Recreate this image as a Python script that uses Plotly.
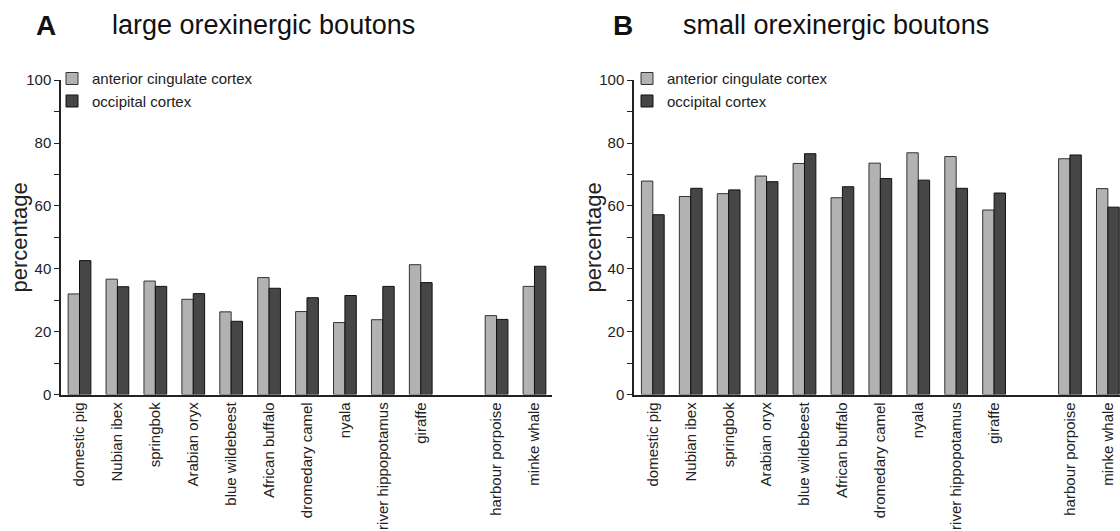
import plotly.graph_objects as go

W, H = 1120, 531

species = ["domestic pig", "Nubian ibex", "springbok", "Arabian oryx", "blue wildebeest",
           "African buffalo", "dromedary camel", "nyala", "river hippopotamus", "giraffe",
           "harbour porpoise", "minke whale"]
category_order = species[:10] + [" "] + species[10:]

large_acc = [32.0, 36.7, 36.1, 30.3, 26.3, 37.2, 26.4, 22.9, 23.8, 41.3, 25.1, 34.4]
large_occ = [42.6, 34.3, 34.4, 32.1, 23.3, 33.8, 30.8, 31.5, 34.4, 35.6, 23.9, 40.8]
small_acc = [67.9, 63.0, 63.9, 69.5, 73.5, 62.6, 73.6, 76.9, 75.7, 58.7, 75.0, 65.5]
small_occ = [57.2, 65.6, 65.1, 67.7, 76.6, 66.1, 68.7, 68.2, 65.6, 64.1, 76.2, 59.6]

series_names = ["anterior cingulate cortex", "occipital cortex"]
y_ticks = [0, 20, 40, 60, 80, 100]

FONT = "Liberation Sans, Arial, Helvetica, sans-serif"
GRAY = "#b2b2b2"
DARK = "#464646"

def px_x(p):
    return p / W

def px_y(p):
    return 1 - p / H

fig = go.Figure()

panels = [
    ("x", "y", "legend", large_acc, large_occ),
    ("x2", "y2", "legend2", small_acc, small_occ),
]
for xa, ya, lg, acc, occ in panels:
    fig.add_trace(go.Bar(x=species, y=acc, name=series_names[0], xaxis=xa, yaxis=ya,
                         legend=lg, marker=dict(color=GRAY, line=dict(color="#333333", width=1))))
    fig.add_trace(go.Bar(x=species, y=occ, name=series_names[1], xaxis=xa, yaxis=ya,
                         legend=lg, marker=dict(color=DARK, line=dict(color="#111111", width=1))))

y_top, y_zero = 73.5, 398.3
xaxis_common = dict(
    type="category", categoryorder="array", categoryarray=category_order,
    showline=True, linecolor="#222222", linewidth=1.5, ticks="", tickangle=-90,
    tickfont=dict(family=FONT, size=15, color="#222222"), showgrid=False, zeroline=False,
    fixedrange=True,
)
yaxis_common = dict(
    range=[0, 100], tickvals=y_ticks, showline=True, linecolor="#222222", linewidth=1.5,
    ticks="outside", ticklen=5, tickwidth=1, tickcolor="#222222",
    minor=dict(dtick=10, ticks="outside", ticklen=5, tickwidth=1, tickcolor="#222222"),
    tickfont=dict(family=FONT, size=15, color="#222222"), showgrid=False, zeroline=False,
)

legend_common = dict(
    font=dict(family=FONT, size=15, color="#222222"), bgcolor="rgba(0,0,0,0)",
    xanchor="left", yanchor="top", tracegroupgap=0, itemclick=False,
)

fig.update_layout(
    width=W, height=H,
    margin=dict(l=0, r=0, t=0, b=0),
    paper_bgcolor="white", plot_bgcolor="white",
    barmode="group", bargap=0.40, bargroupgap=0,
    font=dict(family=FONT, color="#222222"),
    xaxis=dict(domain=[px_x(61), px_x(552.3)], range=[-0.488, 12.47], anchor="y", **xaxis_common),
    xaxis2=dict(domain=[px_x(634), 1.0], range=[-0.496, 12.32], anchor="y2", **xaxis_common),
    yaxis=dict(domain=[px_y(y_zero), px_y(y_top)], anchor="x", **yaxis_common),
    yaxis2=dict(domain=[px_y(y_zero), px_y(y_top)], anchor="x2", **yaxis_common),
    legend=dict(x=px_x(52), y=px_y(55), **legend_common),
    legend2=dict(x=px_x(627), y=px_y(55), **legend_common),
    showlegend=True,
)

annotations = [
    dict(text="<b>A</b>", x=px_x(34), y=px_y(17), size=28),
    dict(text="large orexinergic boutons", x=px_x(110), y=px_y(17), size=27),
    dict(text="<b>B</b>", x=px_x(611), y=px_y(17), size=28),
    dict(text="small orexinergic boutons", x=px_x(681), y=px_y(17), size=27),
]
for a in annotations:
    fig.add_annotation(text=a["text"], x=a["x"], y=a["y"], xref="paper", yref="paper",
                       xanchor="left", yanchor="middle", showarrow=False,
                       font=dict(family=FONT, size=a["size"], color="#111111"))

for xc in (19.5, 593.5):
    fig.add_annotation(text="percentage", x=px_x(xc), y=px_y(236.5), xref="paper", yref="paper",
                       xanchor="center", yanchor="middle", textangle=-90, showarrow=False,
                       font=dict(family=FONT, size=22, color="#222222"))

fig.write_html("out.html")
